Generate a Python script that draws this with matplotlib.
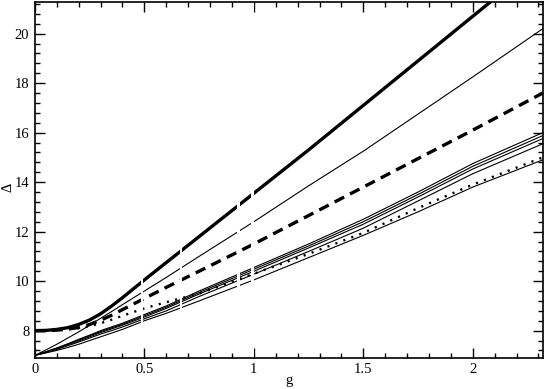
import matplotlib
matplotlib.use("Agg")
import matplotlib.pyplot as plt
from matplotlib.ticker import MultipleLocator

g = [0, 0.05, 0.1, 0.15, 0.2, 0.25, 0.3, 0.35, 0.4, 0.5, 0.6, 0.75, 1.0, 1.25, 1.5, 1.75, 2.0, 2.32]

thick_solid = [8.0, 8.01, 8.05, 8.12, 8.25, 8.43, 8.68, 8.99, 9.33, 10.05, 10.75, 11.8, 13.55, 15.3, 17.1, 18.9, 20.7, 23.0]
thin_upper = [7.0, 7.22, 7.45, 7.7, 7.95, 8.22, 8.5, 8.77, 9.05, 9.6, 10.15, 11.0, 12.4, 13.85, 15.25, 16.75, 18.25, 20.2]
thick_dashed = [8.0, 8.0, 8.02, 8.06, 8.13, 8.25, 8.42, 8.62, 8.85, 9.3, 9.75, 10.4, 11.5, 12.65, 13.8, 14.95, 16.1, 17.6]
thin_l1 = [7.0, 7.15, 7.3, 7.47, 7.65, 7.82, 8.0, 8.15, 8.3, 8.65, 9.0, 9.6, 10.55, 11.5, 12.5, 13.6, 14.75, 16.0]
thin_l2 = [7.0, 7.14, 7.29, 7.45, 7.62, 7.79, 7.96, 8.11, 8.26, 8.6, 8.95, 9.54, 10.48, 11.42, 12.4, 13.5, 14.64, 15.88]
thin_l3 = [7.0, 7.13, 7.27, 7.43, 7.58, 7.75, 7.92, 8.07, 8.22, 8.55, 8.9, 9.48, 10.4, 11.34, 12.3, 13.4, 14.53, 15.76]
thin_l4 = [7.0, 7.12, 7.24, 7.39, 7.54, 7.7, 7.86, 8.0, 8.15, 8.48, 8.8, 9.38, 10.28, 11.2, 12.14, 13.24, 14.34, 15.55]
thin_low = [7.0, 7.1, 7.2, 7.32, 7.45, 7.6, 7.75, 7.9, 8.05, 8.4, 8.7, 9.2, 10.05, 10.95, 11.85, 12.8, 13.8, 14.9]
dotted = [8.0, 8.0, 8.02, 8.05, 8.1, 8.18, 8.3, 8.44, 8.6, 8.9, 9.15, 9.5, 10.3, 11.1, 11.95, 12.95, 13.9, 15.0]

# small breaks where the computed curve pieces join in the original figure
seg_breaks = [0.49, 0.667, 0.93, 0.995]

plt.rcParams['font.family'] = ['Liberation Serif', 'DejaVu Serif']

fig = plt.figure(figsize=(5.45, 3.89), dpi=100)
ax = fig.add_axes([0.064, 0.080, 0.932, 0.915])

ax.plot(g, thick_solid, color='black', lw=2.4, solid_capstyle='butt')
ax.plot(g, thin_upper, color='black', lw=0.8)
ax.plot(g, thick_dashed, color='black', lw=2.4, dashes=(3.2, 2.0))
for s in (thin_l1, thin_l2, thin_l3, thin_l4, thin_low):
    ax.plot(g, s, color='black', lw=0.8)
ax.plot(g, dotted, color='black', lw=1.7, dashes=(0.9, 2.7), dash_capstyle='butt')

for b in seg_breaks:
    ax.axvspan(b - 0.006, b + 0.006, color='white', lw=0, zorder=2.5)

ax.set_xlim(0, 2.32)
ax.set_ylim(6.9, 21.28)
ax.xaxis.set_minor_locator(MultipleLocator(0.1))
ax.yaxis.set_minor_locator(MultipleLocator(0.4))
ax.set_xticks([0, 0.5, 1, 1.5, 2])
ax.set_xticklabels(['0', '0.5', '1', '1.5', '2'])
ax.set_yticks([8, 10, 12, 14, 16, 18, 20])
ax.tick_params(which='both', direction='in', top=True, right=True, labelsize=10.5, width=1)
ax.tick_params(which='major', length=7, pad=4)
ax.tick_params(which='minor', length=3.5)
for sp in ax.spines.values():
    sp.set_linewidth(1.2)
    sp.set_zorder(3)

ax.set_xlabel('g', fontsize=10.5)
ax.xaxis.label.set_va('center')
ax.xaxis.set_label_coords(0.5, -0.063)
ax.set_ylabel('Δ', fontsize=10.5)
ax.yaxis.label.set_va('center')
ax.yaxis.set_label_coords(-0.052, 0.48)

fig.savefig('out.png', dpi=100)
